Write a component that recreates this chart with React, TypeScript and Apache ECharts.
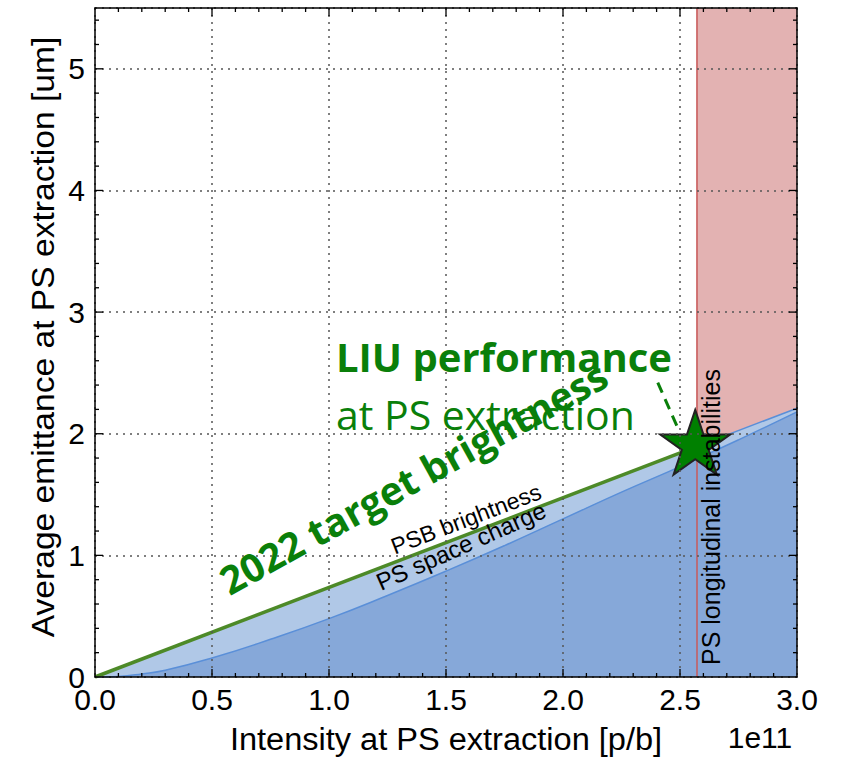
import React, { useEffect, useRef } from "react";
import * as echarts from "echarts";

// Intensity at PS extraction (units of 1e11 p/b)
const intensity = [0, 0.1, 0.2, 0.3, 0.5, 0.75, 1.0, 1.25, 1.5, 1.75, 2.0, 2.25, 2.5, 2.75, 3.0];
// PS space charge limit on the average emittance (um)
const spaceCharge = [0, 0.005, 0.025, 0.055, 0.156, 0.31, 0.48, 0.67, 0.87, 1.08, 1.3, 1.52, 1.73, 1.95, 2.18];
// PSB brightness line
const brightnessX = [0, 3.0];
const brightnessY = [0, 2.21];
// 2022 target brightness (up to the LIU point)
const targetX = [0, 2.565];
const targetY = [0, 1.89];
// LIU performance point and its pointer
const liuPoint = [2.565, 1.93];
const pointerX = [2.405, 2.49];
const pointerY = [2.42, 2.05];
// PS longitudinal instability threshold
const instabilityStart = 2.57;
const instabilityEnd = 3.0;

const xTickLabels = ["0.0", "0.5", "1.0", "1.5", "2.0", "2.5", "3.0"];
const yTickLabels = ["0", "1", "2", "3", "4", "5"];

// axis ranges and tick spacing
const X_MIN = 0;
const X_MAX = 3;
const X_STEP = 0.5;
const X_MINOR = 0.1;
const Y_MIN = 0;
const Y_MAX = 5.5;
const Y_STEP = 1;
const Y_MINOR = 0.2;

const GREEN = "#0a7f0a";
const LINE_GREEN = "#4d8a28";
const LIGHT_BLUE = "#b0c8e7";
const MID_BLUE = "#86a8d9";
const BLUE_LINE = "#5a8fd8";
const SANS = "'Liberation Sans', Arial, sans-serif";
const HUMANIST = "'Open Sans', Lato, sans-serif";

function starPath(): string {
  const pts: string[] = [];
  for (let i = 0; i < 10; i++) {
    const r = i % 2 === 0 ? 1 : 0.382;
    const a = (-90 + i * 36) * (Math.PI / 180);
    pts.push(`${(r * Math.cos(a)).toFixed(4)} ${(r * Math.sin(a)).toFixed(4)}`);
  }
  return "path://M" + pts.join(" L") + " Z";
}

// tick positions along an axis: [value, kind] with kind 0 = major, 1 = minor
function tickValues(min: number, max: number, major: number, minor: number): number[][] {
  const out: number[][] = [];
  const n = Math.round((max - min) / minor);
  for (let i = 1; i < n; i++) {
    const v = +(min + i * minor).toFixed(6);
    const isMajor = Math.abs(v / major - Math.round(v / major)) < 1e-6;
    out.push([v, isMajor ? 0 : 1]);
  }
  return out;
}

const zip = (xs: number[], ys: number[]) => xs.map((x, i) => [x, ys[i]]);
const deg = (d: number) => (d * Math.PI) / 180;

export default function App() {
  const ref = useRef<HTMLDivElement>(null);

  useEffect(() => {
    if (!ref.current) return;
    const chart = echarts.init(ref.current, undefined, { renderer: "svg" });

    const xTicks = tickValues(X_MIN, X_MAX, X_STEP, X_MINOR);
    const yTicks = tickValues(Y_MIN, Y_MAX, Y_STEP, Y_MINOR);
    // items: [value, kind, orientation] with orientation 0 = x axis, 1 = y axis
    const tickItems = [
      ...xTicks.map(([v, k]) => [v, k, 0]),
      ...yTicks.map(([v, k]) => [v, k, 1]),
    ];

    const frameLine = { show: true, onZero: false, lineStyle: { color: "#000", width: 1.5 } };
    const gridLine = { show: true, lineStyle: { color: "#555", type: [2, 5], width: 1.5 } };
    const xBase = { type: "value" as const, min: X_MIN, max: X_MAX, interval: X_STEP, z: 10, axisLine: frameLine, axisTick: { show: false } };
    const yBase = { type: "value" as const, min: Y_MIN, max: Y_MAX, interval: Y_STEP, z: 10, axisLine: frameLine, axisTick: { show: false } };

    chart.setOption({
      animation: false,
      backgroundColor: "#fff",
      grid: { left: 95, right: 49, top: 8, bottom: 80, containLabel: false },
      xAxis: [
        {
          ...xBase,
          position: "bottom",
          axisLabel: {
            color: "#000",
            fontFamily: SANS,
            fontSize: 30,
            margin: 7,
            formatter: (v: number) => xTickLabels[Math.round(v / X_STEP)] ?? "",
          },
          splitLine: gridLine,
        },
        { ...xBase, position: "top", axisLabel: { show: false }, splitLine: { show: false } },
      ],
      yAxis: [
        {
          ...yBase,
          position: "left",
          axisLabel: {
            color: "#000",
            fontFamily: SANS,
            fontSize: 30,
            margin: 10,
            formatter: (v: number) => (Number.isInteger(v) ? yTickLabels[v] ?? "" : ""),
          },
          splitLine: gridLine,
        },
        { ...yBase, position: "right", axisLabel: { show: false }, splitLine: { show: false } },
      ],
      series: [
        {
          name: "PSB brightness area",
          type: "line",
          data: zip(brightnessX, brightnessY),
          symbol: "none",
          lineStyle: { width: 0 },
          areaStyle: { color: LIGHT_BLUE, opacity: 1 },
          z: 1,
        },
        {
          name: "PS space charge area",
          type: "line",
          data: zip(intensity, spaceCharge),
          smooth: true,
          symbol: "none",
          lineStyle: { width: 0 },
          areaStyle: { color: MID_BLUE, opacity: 1 },
          z: 2,
        },
        {
          name: "PS longitudinal instabilities",
          type: "line",
          data: [],
          z: 3,
          markArea: {
            silent: true,
            itemStyle: { color: "rgba(194,88,88,0.46)" },
            data: [[{ xAxis: instabilityStart }, { xAxis: instabilityEnd }]],
          },
          markLine: {
            silent: true,
            symbol: "none",
            label: { show: false },
            lineStyle: { color: "#c85a5a", width: 1.5, type: "solid" },
            data: [{ xAxis: instabilityStart }],
          },
        },
        {
          name: "PSB brightness",
          type: "line",
          data: zip(brightnessX, brightnessY),
          symbol: "none",
          lineStyle: { color: BLUE_LINE, width: 1.5 },
          z: 4,
        },
        {
          name: "PS space charge",
          type: "line",
          data: zip(intensity, spaceCharge),
          smooth: true,
          symbol: "none",
          lineStyle: { color: BLUE_LINE, width: 1.5 },
          z: 4,
        },
        {
          name: "2022 target brightness",
          type: "line",
          data: zip(targetX, targetY),
          symbol: "none",
          lineStyle: { color: LINE_GREEN, width: 3.5 },
          z: 5,
        },
        {
          name: "pointer",
          type: "line",
          data: zip(pointerX, pointerY),
          symbol: "none",
          lineStyle: { color: GREEN, width: 3, type: [11, 7] },
          z: 5,
        },
        {
          name: "LIU performance",
          type: "scatter",
          data: [liuPoint],
          symbol: starPath(),
          symbolKeepAspect: true,
          symbolSize: [70, 68],
          itemStyle: { color: "#008000", borderColor: "#222", borderWidth: 2, opacity: 1 },
          z: 6,
        },
        {
          // inward ticks on all four sides of the frame
          name: "frame ticks",
          type: "custom",
          silent: true,
          clip: false,
          z: 12,
          data: tickItems,
          renderItem: (_params: any, api: any) => {
            const v = api.value(0);
            const len = api.value(1) === 0 ? 8 : 4;
            const style = { stroke: "#000", lineWidth: 1.3 };
            if (api.value(2) === 0) {
              const b = api.coord([v, Y_MIN]);
              const t = api.coord([v, Y_MAX]);
              return {
                type: "group",
                children: [
                  { type: "line", shape: { x1: b[0], y1: b[1], x2: b[0], y2: b[1] - len }, style },
                  { type: "line", shape: { x1: t[0], y1: t[1], x2: t[0], y2: t[1] + len }, style },
                ],
              };
            }
            const l = api.coord([X_MIN, v]);
            const r = api.coord([X_MAX, v]);
            return {
              type: "group",
              children: [
                { type: "line", shape: { x1: l[0], y1: l[1], x2: l[0] + len, y2: l[1] }, style },
                { type: "line", shape: { x1: r[0], y1: r[1], x2: r[0] - len, y2: r[1] }, style },
              ],
            };
          },
        },
      ],
      graphic: [
        {
          type: "text",
          x: 336,
          y: 356,
          z: 20,
          style: { text: "LIU performance", fill: GREEN, font: `bold 40px ${HUMANIST}`, align: "left", verticalAlign: "middle" },
        },
        {
          type: "text",
          x: 336,
          y: 414,
          z: 20,
          style: { text: "at PS extraction", fill: GREEN, font: `41px ${HUMANIST}`, align: "left", verticalAlign: "middle" },
        },
        {
          type: "text",
          x: 413,
          y: 477,
          rotation: deg(29),
          z: 21,
          style: { text: "2022 target brightness", fill: GREEN, font: `bold 39px ${HUMANIST}`, align: "center", verticalAlign: "middle" },
        },
        {
          type: "text",
          x: 466,
          y: 519,
          rotation: deg(21),
          z: 20,
          style: { text: "PSB brightness", fill: "#000", font: `23px ${SANS}`, align: "center", verticalAlign: "middle" },
        },
        {
          type: "text",
          x: 461,
          y: 546,
          rotation: deg(24),
          z: 20,
          style: { text: "PS space charge", fill: "#000", font: `24px ${SANS}`, align: "center", verticalAlign: "middle" },
        },
        {
          type: "text",
          x: 711,
          y: 517,
          rotation: deg(90),
          z: 20,
          style: { text: "PS longitudinal instabilities", fill: "#000", font: `25px ${SANS}`, align: "center", verticalAlign: "middle" },
        },
        {
          type: "text",
          x: 446,
          y: 739,
          scaleX: 1.05,
          style: { text: "Intensity at PS extraction [p/b]", fill: "#000", font: `31px ${SANS}`, align: "center", verticalAlign: "middle" },
        },
        {
          type: "text",
          x: 760,
          y: 737,
          style: { text: "1e11", fill: "#000", font: `30px ${SANS}`, align: "center", verticalAlign: "middle" },
        },
        {
          type: "text",
          x: 43,
          y: 337,
          rotation: deg(90),
          scaleX: 1.05,
          style: { text: "Average emittance at PS extraction [um]", fill: "#000", font: `32px ${SANS}`, align: "center", verticalAlign: "middle" },
        },
      ],
    });

    return () => chart.dispose();
  }, []);

  return (
    <div
      ref={ref}
      style={{ position: "absolute", left: 0, top: 0, width: 846, height: 757, background: "#fff" }}
    />
  );
}
